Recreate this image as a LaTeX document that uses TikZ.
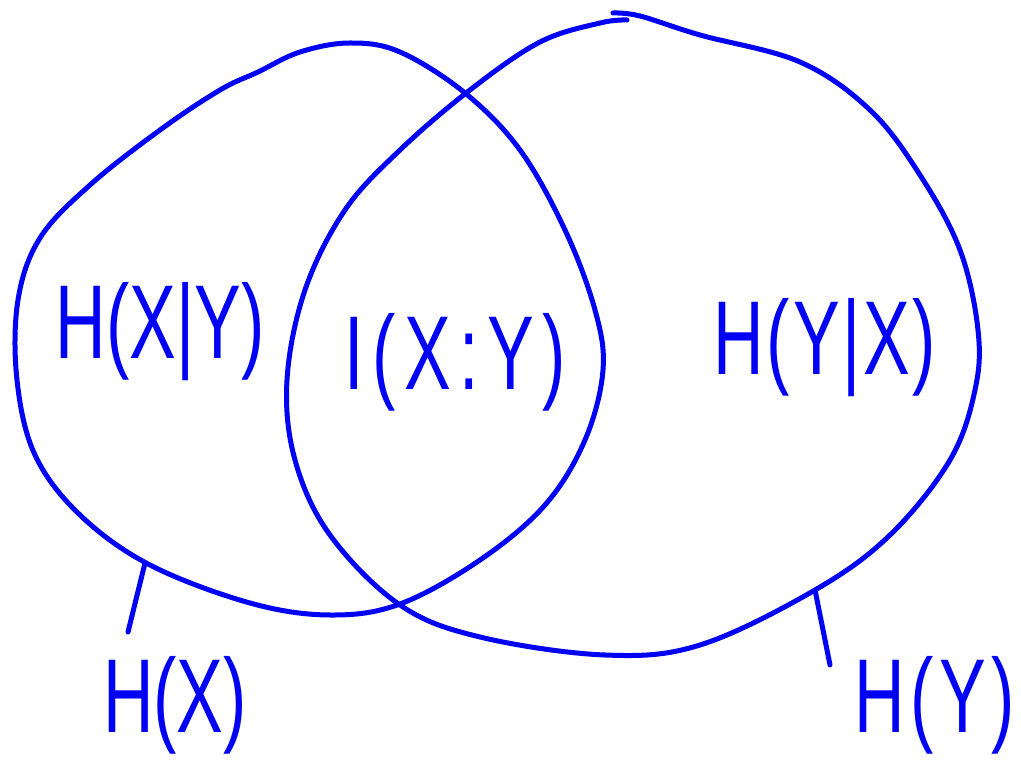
\documentclass[tikz,border=0pt]{standalone}
\usepackage{fontspec}
\setmainfont{Liberation Sans}
\usepackage{graphicx}
\usetikzlibrary{positioning}
\definecolor{ink}{RGB}{0,0,245}
\newcommand{\hand}[1]{\scalebox{1}[1.5]{#1}}

\begin{document}
\begin{tikzpicture}[x=1pt,y=-1pt,line cap=round,line join=round,
  stroke/.style={draw=ink,line width=5pt},
  scrawl/.style={text=ink,font=\fontsize{70}{80}\selectfont,inner sep=0pt}]
  \useasboundingbox (0,0) rectangle (1021,783);
  % Left set H(X).
  \draw[stroke] plot[smooth cycle,tension=.6] coordinates {
    (258,72) (300,52) (350,43) (400,52) (465,93) (520,150) (565,230)
    (595,310) (603,370) (585,440) (545,505) (480,560) (400,604) (330,615)
    (250,603) (150,565) (80,515) (35,455) (17,380) (18,300) (40,238)
    (90,185) (160,130) (220,90)};
  % Right set H(Y), left open at the top.
  \draw[stroke] plot[smooth,tension=.6] coordinates {
    (627,20) (600,23) (540,42) (470,90) (400,150) (345,210) (305,290)
    (287,380) (295,460) (330,535) (400,605) (480,637) (605,655) (700,645)
    (815,590) (890,535) (950,460) (975,390) (978,330) (960,250) (920,175)
    (870,110) (800,62) (700,35) (640,16) (613,13)};
  % Region labels.
  \node[scrawl] (hxy) at (160,332) {\hand{H(X|Y)}};
  \node[scrawl] (ixy) at (455,362) {\addfontfeatures{LetterSpace=12}\hand{I(X:Y)}};
  \node[scrawl] (hyx) at (825,348) {\addfontfeatures{LetterSpace=4}\hand{H(Y|X)}};
  \node[scrawl] (hx) at (175,705) {\hand{H(X)}};
  \node[scrawl] (hy) at (935,705) {\addfontfeatures{LetterSpace=8}\hand{H(Y)}};
  % Leaders.
  \coordinate (lx) at (145,563);
  \coordinate (lxend) at (128,632);
  \coordinate (ly) at (815,590);
  \coordinate (lyend) at (830,665);
  \draw[stroke] (lx) -- (lxend);
  \draw[stroke] (ly) -- (lyend);
\end{tikzpicture}
\end{document}
